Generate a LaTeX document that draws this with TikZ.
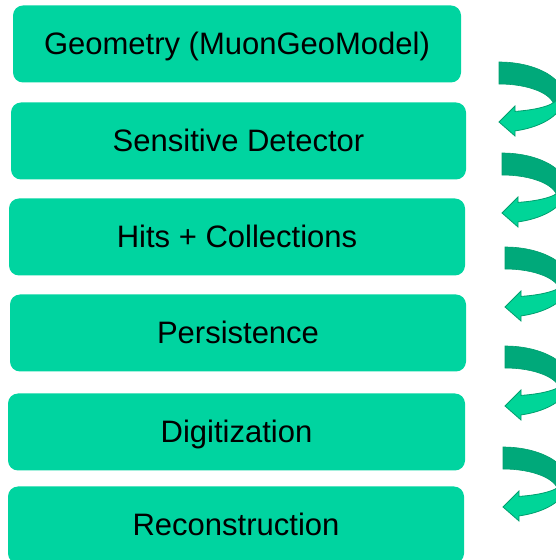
\documentclass[tikz,border=0pt]{standalone}
\usepackage{fontspec}
\setmainfont{Liberation Sans}
\definecolor{boxgreen}{HTML}{00D4A0}
\definecolor{arrdark}{HTML}{00A97A}
\definecolor{arrlight}{HTML}{00D598}
\definecolor{arredge}{HTML}{009E6E}
\newcommand\curlarrow[2]{%
  \begin{scope}[shift={(#1,#2)}]
    \filldraw[fill=arrdark, draw=arredge, line width=0.6pt]
      (0,0) arc[start angle=90, end angle=-10, x radius=65, y radius=35]
      -- (55,-45) arc[start angle=0, end angle=90, x radius=55, y radius=23] -- cycle;
    \filldraw[fill=arrlight, draw=arredge, line width=0.8pt]
      (65,-35) arc[start angle=0, end angle=-75.7, x radius=65, y radius=35]
      -- (16,-74) -- (0,-60) -- (16,-44) -- (16,-49.4)
      arc[start angle=-74, end angle=0, x radius=58, y radius=14] -- cycle;
  \end{scope}}
\begin{document}
\begin{tikzpicture}[x=1pt,y=1pt,
  stagebox/.style={rectangle, rounded corners=10pt, fill=boxgreen,
    minimum width=#1, minimum height=77pt, inner sep=0pt,
    text height=22pt, text depth=0pt, text=black,
    font=\fontsize{31}{36}\selectfont}]
\useasboundingbox (0,0) rectangle (556,560);
\clip (0,0) rectangle (556,560);

\node[stagebox=448pt] (geo)  at (237,516)   {Geometry (MuonGeoModel)};
\node[stagebox=455pt] (sens) at (238.5,419) {Sensitive Detector};
\node[stagebox=456pt] (hits) at (237,323)   {Hits + Collections};
\node[stagebox=456pt] (pers) at (238,227)   {Persistence};
\node[stagebox=457pt] (digi) at (236.5,128) {Digitization};
\node[stagebox=456pt] (reco) at (236,35)    {Reconstruction};

\curlarrow{499}{498}
\curlarrow{502}{407}
\curlarrow{505}{313}
\curlarrow{505}{214}
\curlarrow{503}{113}
\end{tikzpicture}
\end{document}
